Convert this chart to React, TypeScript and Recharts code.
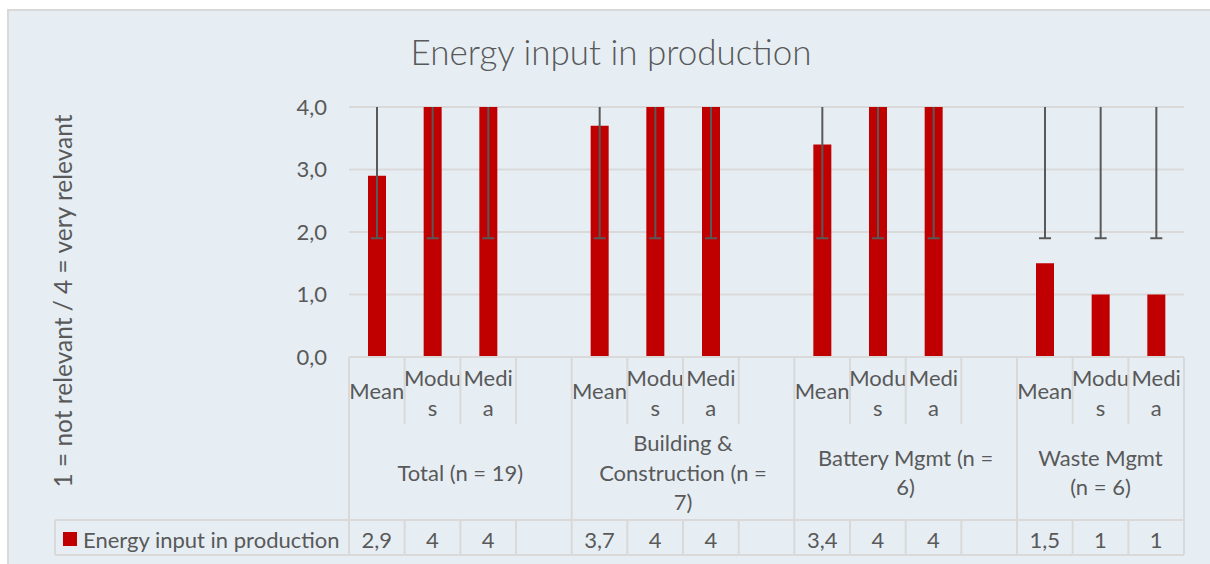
import React from "react";
import { BarChart, Bar, XAxis, YAxis, CartesianGrid } from "recharts";

document.body.style.margin = "0";

// Daten
const groupLabels = ["Total (n = 19)", "Building &\nConstruction (n =\n7)", "Battery Mgmt (n =\n6)", "Waste Mgmt\n(n = 6)"];
const subLabels = ["Mean", "Modu\ns", "Medi\na", ""];
const groupSizes = [4, 4, 4, 3];
const values: (number | null)[] = [2.9, 4, 4, null, 3.7, 4, 4, null, 3.4, 4, 4, null, 1.5, 1, 1];
const errLow: (number | null)[] = [1.9, 1.9, 1.9, null, 1.9, 1.9, 1.9, null, 1.9, 1.9, 1.9, null, 1.9, 1.9, 1.9];
const errHigh: (number | null)[] = [4, 4, 4, null, 4, 4, 4, null, 4, 4, 4, null, 4, 4, 4];
const yTicks = [0, 1, 2, 3, 4];
const seriesName = "Energy input in production";

const W = 1210;
const H = 564;
const PLOT_LEFT = 349;
const PLOT_RIGHT = 1184;
const PLOT_TOP = 107;
const PLOT_BOTTOM = 357;
const SLOT = (PLOT_RIGHT - PLOT_LEFT) / values.length;
const SUB_BOTTOM = 424;
const TABLE_TOP = 520;
const TABLE_BOTTOM = 555;
const TEXT = "#595959";
const LINE = "#D9D9D9";
const RED = "#C00000";
const FONT = "Lato, 'Open Sans', sans-serif";
const FS = 22;

const rows = (() => {
  const out: any[] = [];
  let i = 0;
  groupSizes.forEach((size, gi) => {
    for (let si = 0; si < size; si++) {
      out.push({
        key: `g${gi}s${si}`,
        group: gi,
        sub: si,
        first: si === 0,
        value: values[i],
        lo: errLow[i],
        hi: errHigh[i],
      });
      i++;
    }
  });
  return out;
})();

const fmt = (v: number | null) => (v == null ? "" : String(v).replace(".", ","));

const CategoryTick = (props: any) => {
  const { x, index } = props;
  const row = rows[index];
  if (!row) return null;
  const left = x - SLOT / 2;
  const right = x + SLOT / 2;
  const subLines = subLabels[row.sub].split("\n");
  const last = index === rows.length - 1;
  const els: React.ReactNode[] = [];

  // Zellrahmen
  els.push(
    <line key="l" x1={left} x2={left} y1={PLOT_BOTTOM} y2={row.first ? TABLE_BOTTOM : SUB_BOTTOM} stroke={LINE} strokeWidth={2} />
  );
  if (!row.first) {
    els.push(<line key="lt" x1={left} x2={left} y1={TABLE_TOP} y2={TABLE_BOTTOM} stroke={LINE} strokeWidth={2} />);
  }
  if (last) {
    els.push(<line key="r" x1={right} x2={right} y1={PLOT_BOTTOM} y2={TABLE_BOTTOM} stroke={LINE} strokeWidth={2} />);
  }
  els.push(<line key="t" x1={left} x2={right} y1={TABLE_TOP} y2={TABLE_TOP} stroke={LINE} strokeWidth={2} />);
  els.push(<line key="b" x1={left} x2={right} y1={TABLE_BOTTOM} y2={TABLE_BOTTOM} stroke={LINE} strokeWidth={2} />);

  // Unterkategorie
  subLines.forEach((s, i) => {
    const cy = subLines.length === 1 ? 390 : 377 + i * 30;
    els.push(
      <text key={`s${i}`} x={x} y={cy} textAnchor="middle" dominantBaseline="central" fontSize={FS} fill={TEXT} fontFamily={FONT}>
        {s}
      </text>
    );
  });

  // Gruppe
  if (row.first) {
    const gLines = groupLabels[row.group].split("\n");
    const gx = left + (groupSizes[row.group] * SLOT) / 2;
    gLines.forEach((s, i) => {
      const cy = 472 + (i - (gLines.length - 1) / 2) * 29.5;
      els.push(
        <text key={`g${i}`} x={gx} y={cy} textAnchor="middle" dominantBaseline="central" fontSize={FS} fill={TEXT} fontFamily={FONT}>
          {s}
        </text>
      );
    });
  }

  // Datentabelle
  els.push(
    <text key="v" x={x} y={539} textAnchor="middle" dominantBaseline="central" fontSize={FS} fill={TEXT} fontFamily={FONT}>
      {fmt(row.value)}
    </text>
  );

  return <g>{els}</g>;
};

const BarWithError = (props: any) => {
  const { x, y, width, height, payload } = props;
  if (payload == null || payload.value == null || !height) return null;
  const base = y + height;
  const k = height / payload.value;
  const cx = x + width / 2;
  const yLo = base - payload.lo * k;
  const yHi = base - payload.hi * k;
  return (
    <g>
      <rect x={x} y={y} width={width} height={height} fill={RED} />
      <line x1={cx} x2={cx} y1={yHi} y2={yLo} stroke={TEXT} strokeWidth={2} />
      <line x1={cx - 6} x2={cx + 6} y1={yLo} y2={yLo} stroke={TEXT} strokeWidth={2} />
    </g>
  );
};

export default function App() {
  return (
    <div style={{ position: "relative", width: W, height: H, background: "#fff", overflow: "hidden", fontFamily: FONT }}>
      <div
        style={{
          position: "absolute",
          left: 7,
          top: 9,
          width: W,
          height: H,
          background: "#E6EEF4",
          border: `2px solid ${LINE}`,
        }}
      />
      <div style={{ position: "absolute", left: 0, top: 0 }}>
        <BarChart
          width={W}
          height={H}
          data={rows}
          margin={{ top: PLOT_TOP, right: W - PLOT_RIGHT, left: PLOT_LEFT - 60, bottom: 0 }}
        >
          <CartesianGrid vertical={false} stroke={LINE} strokeWidth={2} />
          <XAxis
            dataKey="key"
            interval={0}
            height={H - PLOT_BOTTOM}
            tickLine={false}
            axisLine={{ stroke: LINE, strokeWidth: 2 }}
            tick={<CategoryTick />}
          />
          <YAxis
            domain={[0, 4]}
            ticks={yTicks}
            width={60}
            axisLine={false}
            tickLine={false}
            tickSize={0}
            tickMargin={22}
            tickFormatter={(v: number) => v.toFixed(1).replace(".", ",")}
            tick={{ fontSize: FS, fill: TEXT, fontFamily: FONT }}
          />
          <Bar dataKey="value" barSize={18} fill={RED} isAnimationActive={false} shape={<BarWithError />} />
        </BarChart>
      </div>
      <svg width={W} height={H} style={{ position: "absolute", left: 0, top: 0, pointerEvents: "none" }}>
        <text x={611} y={65} textAnchor="middle" fontSize={35} fontWeight={300} fill={TEXT} fontFamily={FONT}>
          {seriesName}
        </text>
        <text
          x={62}
          y={301}
          transform="rotate(-90 62 301)"
          textAnchor="middle"
          dominantBaseline="central"
          fontSize={24.5}
          fill={TEXT}
          fontFamily={FONT}
        >
          1 = not relevant / 4 = very relevant
        </text>
        <line x1={55} x2={55} y1={TABLE_TOP} y2={TABLE_BOTTOM} stroke={LINE} strokeWidth={2} />
        <line x1={55} x2={PLOT_LEFT} y1={TABLE_TOP} y2={TABLE_TOP} stroke={LINE} strokeWidth={2} />
        <line x1={55} x2={PLOT_LEFT} y1={TABLE_BOTTOM} y2={TABLE_BOTTOM} stroke={LINE} strokeWidth={2} />
        <rect x={63} y={532} width={14} height={14} fill={RED} />
        <text x={83} y={539} dominantBaseline="central" fontSize={FS} fill={TEXT} fontFamily={FONT}>
          {seriesName}
        </text>
      </svg>
    </div>
  );
}
